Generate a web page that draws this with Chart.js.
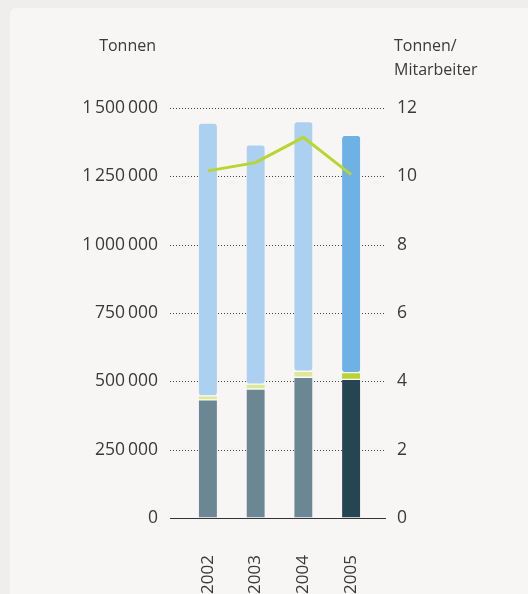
<!DOCTYPE html>
<html lang="de">
<head>
<meta charset="utf-8">
<title>Tonnen und Tonnen je Mitarbeiter 2002–2005</title>
<script src="https://cdn.jsdelivr.net/npm/chart.js@4"></script>
<style>
  html, body { margin: 0; padding: 0; background: #efeeec; }
  body { width: 528px; height: 594px; position: relative; overflow: hidden; }
  .card { position: absolute; left: 10px; top: 8px; width: 560px; height: 620px;
          background: #f7f6f4; border-radius: 6px; }
  canvas { position: absolute; left: 0; top: 0; }
</style>
</head>
<body>
<div class="card"></div>
<canvas id="chart" width="528" height="594"></canvas>
<script>
// Jahre und Werte
const years = ['2002', '2003', '2004', '2005'];
const tonnenUnten = [432000, 472000, 515000, 507000];
const tonnenMitte = [15000, 18000, 22000, 25000];
const tonnenOben = [998000, 875000, 913000, 868000];
const tonnenProMitarbeiter = [10.16, 10.40, 11.14, 10.05];

const leftTicks = [0, 250000, 500000, 750000, 1000000, 1250000, 1500000];
const rightTicks = [0, 2, 4, 6, 8, 10, 12];

const FONT = '"Open Sans", "DejaVu Sans", sans-serif';
const TEXT = '#3a3a3a';

// 2005 wird in kräftigeren Farben hervorgehoben
const colUnten = ['#6b8794', '#6b8794', '#6b8794', '#264552'];
const colMitte = ['#dfe895', '#dfe895', '#dfe895', '#b7d433'];
const colOben = ['#abd0f0', '#abd0f0', '#abd0f0', '#6db1e5'];

// Tausendertrennung mit schmalem Leerraum: 1 500 000
function fmt(v) {
  return String(v).replace(/\B(?=(\d{3})+(?!\d))/g, '\u2009');
}

// gepunktete Hilfslinien über die ganze Breite, durchgezogene Nulllinie
const gridPlugin = {
  id: 'gridLines',
  beforeDatasetsDraw(chart) {
    const { ctx, chartArea, scales } = chart;
    const x0 = chartArea.left - 14, x1 = chartArea.right + 11;
    ctx.save();
    scales.y.ticks.forEach(t => {
      const y = Math.round(scales.y.getPixelForValue(t.value)) + 0.5;
      ctx.beginPath();
      if (t.value === 0) {
        ctx.setLineDash([]);
        ctx.strokeStyle = '#333';
      } else {
        ctx.setLineDash([1, 2]);
        ctx.strokeStyle = '#444';
      }
      ctx.lineWidth = 1;
      ctx.moveTo(x0, y);
      ctx.lineTo(x1, y);
      ctx.stroke();
    });
    ctx.restore();
  }
};

// Einheiten über den Achsen
const unitPlugin = {
  id: 'units',
  afterDraw(chart) {
    const { ctx } = chart;
    const left = chart.scales.y, right = chart.scales.y1;
    ctx.save();
    ctx.fillStyle = TEXT;
    ctx.font = '16px ' + FONT;
    ctx.textBaseline = 'middle';
    ctx.textAlign = 'right';
    ctx.fillText('Tonnen', left.right - 28, 46);
    ctx.textAlign = 'left';
    ctx.fillText('Tonnen/', right.left + 19, 46);
    ctx.fillText('Mitarbeiter', right.left + 19, 70);
    ctx.restore();
  }
};

const barCommon = {
  stack: 's',
  barThickness: 18,
  borderRadius: 4,
  borderSkipped: false,
  borderWidth: { top: 1, bottom: 1, left: 0, right: 0 },
  borderColor: 'rgba(250,250,248,0.9)',
  order: 1,
  yAxisID: 'y'
};

new Chart(document.getElementById('chart'), {
  data: {
    labels: years,
    datasets: [
      { type: 'line', label: 'Tonnen/Mitarbeiter', data: tonnenProMitarbeiter,
        yAxisID: 'y1', borderColor: '#b9d52f', borderWidth: 3, pointRadius: 0,
        tension: 0, order: 0 },
      Object.assign({ type: 'bar', label: 'unten', data: tonnenUnten, backgroundColor: colUnten }, barCommon),
      Object.assign({ type: 'bar', label: 'mitte', data: tonnenMitte, backgroundColor: colMitte }, barCommon),
      Object.assign({ type: 'bar', label: 'oben', data: tonnenOben, backgroundColor: colOben }, barCommon)
    ]
  },
  options: {
    responsive: false,
    animation: false,
    layout: { padding: { top: 108, left: 0, right: 0, bottom: 0 } },
    plugins: { legend: { display: false }, tooltip: { enabled: false } },
    scales: {
      x: {
        stacked: true,
        grid: { display: false, drawTicks: false },
        border: { display: false },
        ticks: { minRotation: 90, maxRotation: 90, padding: 37, color: TEXT,
                 font: { family: FONT, size: 17 } },
        afterFit(s) { s.height = 76; }
      },
      y: {
        position: 'left',
        stacked: true,
        min: 0, max: 1500000,
        afterBuildTicks(s) { s.ticks = leftTicks.map(v => ({ value: v })); },
        grid: { display: false, drawTicks: false },
        border: { display: false },
        ticks: { padding: 26, color: TEXT, font: { family: FONT, size: 17.5 },
                 callback: v => fmt(v) },
        afterFit(s) { s.width = 184; }
      },
      y1: {
        position: 'right',
        min: 0, max: 12,
        afterBuildTicks(s) { s.ticks = rightTicks.map(v => ({ value: v })); },
        grid: { display: false, drawTicks: false },
        border: { display: false },
        ticks: { padding: 22, color: TEXT, font: { family: FONT, size: 17.5 } },
        afterFit(s) { s.width = 153; }
      }
    }
  },
  plugins: [gridPlugin, unitPlugin]
});
</script>
</body>
</html>
